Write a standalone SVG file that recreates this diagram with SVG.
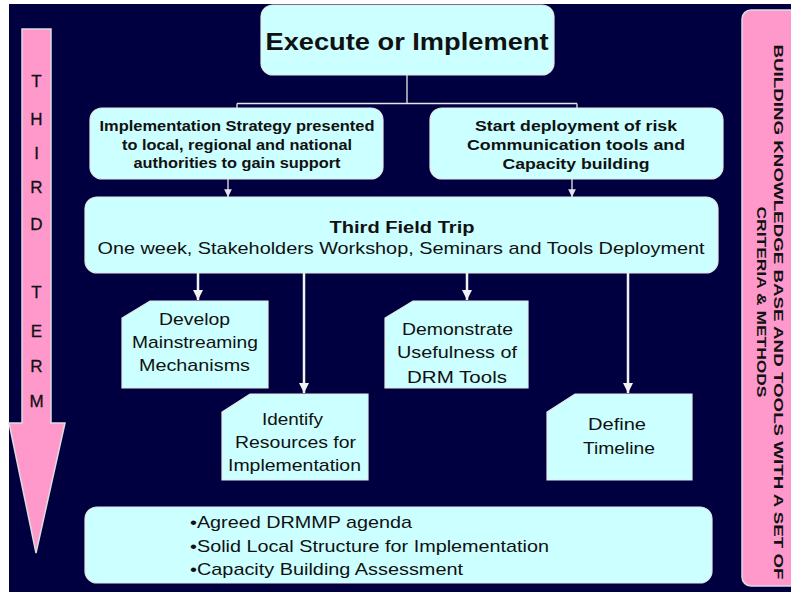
<svg xmlns="http://www.w3.org/2000/svg" width="791" height="592" viewBox="0 0 791 592">
<defs>
<style>
.t{font-family:"Liberation Sans",Arial,sans-serif;fill:#111;}
.b{font-weight:bold;}
.box{fill:#ccffff;stroke:#e8e8e8;stroke-width:1.2;}
.pink{fill:#ff99cc;stroke:#dddddd;stroke-width:1.5;}
.thin{stroke:#e6e6e6;stroke-width:1.3;fill:none;}
.thick{stroke:#f2f2f2;stroke-width:2.5;fill:none;}
.lt{font-family:"Liberation Sans",Arial,sans-serif;font-size:17px;fill:#111;text-anchor:middle;stroke:#111;stroke-width:0.3;}
</style>
<marker id="ah" viewBox="0 0 10 10" refX="10" refY="5" markerWidth="4" markerHeight="4" orient="auto" markerUnits="strokeWidth">
<path d="M0,0 L10,5 L0,10 z" fill="#f2f2f2"/>
</marker>
<marker id="ahs" viewBox="0 0 10 10" refX="10" refY="5" markerWidth="6" markerHeight="6" orient="auto" markerUnits="strokeWidth">
<path d="M0,0 L10,5 L0,10 z" fill="#e6e6e6"/>
</marker>
</defs>
<rect x="0" y="0" width="791" height="592" fill="#ffffff"/>
<rect x="9" y="4" width="782" height="588" fill="#000040"/>

<g id="third-term">
<path class="pink" d="M22,29 H51 V423 H65 L36,553 L9,423 H22 Z"/>
<text class="lt" x="36.5" y="87">T</text>
<text class="lt" x="36.5" y="125">H</text>
<text class="lt" x="36.5" y="159">I</text>
<text class="lt" x="36.5" y="193">R</text>
<text class="lt" x="36.5" y="230">D</text>
<text class="lt" x="36.5" y="298">T</text>
<text class="lt" x="36.5" y="337">E</text>
<text class="lt" x="36.5" y="372">R</text>
<text class="lt" x="36.5" y="407">M</text>
</g>

<g id="building-knowledge">
<rect class="pink" x="742" y="10" width="60" height="576" rx="9"/>
<text class="t b" font-size="13" text-anchor="middle" transform="translate(774,312) rotate(90)" textLength="535" lengthAdjust="spacingAndGlyphs">BUILDING KNOWLEDGE BASE AND TOOLS WITH A SET OF</text>
<text class="t b" font-size="13" text-anchor="middle" transform="translate(757,302) rotate(90)" textLength="191" lengthAdjust="spacingAndGlyphs">CRITERIA &amp; METHODS</text>
</g>

<g id="connectors">
<path class="thin" d="M407,75 V103.5 M237,103.5 H577 M237,103.5 V108 M577,103.5 V108"/>
<line class="thin" x1="228" y1="179" x2="228" y2="197" marker-end="url(#ahs)"/>
<line class="thin" x1="572" y1="179" x2="572" y2="197" marker-end="url(#ahs)"/>
<line class="thick" x1="198" y1="273" x2="198" y2="300" marker-end="url(#ah)"/>
<line class="thick" x1="304" y1="273" x2="304" y2="393" marker-end="url(#ah)"/>
<line class="thick" x1="467" y1="273" x2="467" y2="300" marker-end="url(#ah)"/>
<line class="thick" x1="628" y1="273" x2="628" y2="393" marker-end="url(#ah)"/>
</g>

<g id="execute">
<rect class="box" x="261" y="5" width="293" height="70" rx="12"/>
<text class="t b" font-size="23" x="407" y="50" text-anchor="middle" textLength="283" lengthAdjust="spacingAndGlyphs">Execute or Implement</text>
</g>

<g id="strategy">
<rect class="box" x="90" y="108" width="293" height="71" rx="12"/>
<text class="t b" font-size="15" x="237" y="131" text-anchor="middle" textLength="275" lengthAdjust="spacingAndGlyphs">Implementation Strategy presented</text>
<text class="t b" font-size="15" x="237" y="150" text-anchor="middle" textLength="230" lengthAdjust="spacingAndGlyphs">to local, regional and national</text>
<text class="t b" font-size="15" x="237" y="168" text-anchor="middle" textLength="207" lengthAdjust="spacingAndGlyphs">authorities to gain support</text>
</g>

<g id="deployment">
<rect class="box" x="430" y="108" width="293" height="71" rx="12"/>
<text class="t b" font-size="15" x="576" y="131" text-anchor="middle" textLength="202" lengthAdjust="spacingAndGlyphs">Start deployment of risk</text>
<text class="t b" font-size="15" x="576" y="150" text-anchor="middle" textLength="218" lengthAdjust="spacingAndGlyphs">Communication tools and</text>
<text class="t b" font-size="15" x="576" y="169" text-anchor="middle" textLength="147" lengthAdjust="spacingAndGlyphs">Capacity building</text>
</g>

<g id="field-trip">
<rect class="box" x="85" y="197" width="633" height="76" rx="12"/>
<text class="t b" font-size="16" x="402" y="233" text-anchor="middle" textLength="145" lengthAdjust="spacingAndGlyphs">Third Field Trip</text>
<text class="t" font-size="17" x="401" y="254" text-anchor="middle" textLength="607" lengthAdjust="spacingAndGlyphs">One week, Stakeholders Workshop, Seminars and Tools Deployment</text>
</g>

<g id="develop">
<path class="box" d="M150,301 H268 V388 H122 V318 Z"/>
<text class="t" font-size="17" x="194.5" y="325" text-anchor="middle" textLength="71" lengthAdjust="spacingAndGlyphs">Develop</text>
<text class="t" font-size="17" x="195" y="348" text-anchor="middle" textLength="126" lengthAdjust="spacingAndGlyphs">Mainstreaming</text>
<text class="t" font-size="17" x="194.5" y="371" text-anchor="middle" textLength="111" lengthAdjust="spacingAndGlyphs">Mechanisms</text>
</g>

<g id="identify">
<path class="box" d="M250,394 H368 V480 H222 V412 Z"/>
<text class="t" font-size="17" x="292.5" y="425" text-anchor="middle" textLength="61" lengthAdjust="spacingAndGlyphs">Identify</text>
<text class="t" font-size="17" x="295.5" y="448" text-anchor="middle" textLength="121" lengthAdjust="spacingAndGlyphs">Resources for</text>
<text class="t" font-size="17" x="294.5" y="471" text-anchor="middle" textLength="133" lengthAdjust="spacingAndGlyphs">Implementation</text>
</g>

<g id="demonstrate">
<path class="box" d="M413,301 H528 V388 H385 V318 Z"/>
<text class="t" font-size="17" x="457.5" y="335" text-anchor="middle" textLength="111" lengthAdjust="spacingAndGlyphs">Demonstrate</text>
<text class="t" font-size="17" x="457" y="358" text-anchor="middle" textLength="120" lengthAdjust="spacingAndGlyphs">Usefulness of</text>
<text class="t" font-size="17" x="457" y="383" text-anchor="middle" textLength="100" lengthAdjust="spacingAndGlyphs">DRM Tools</text>
</g>

<g id="timeline">
<path class="box" d="M575,394 H692 V480 H547 V412 Z"/>
<text class="t" font-size="17" x="617" y="430" text-anchor="middle" textLength="58" lengthAdjust="spacingAndGlyphs">Define</text>
<text class="t" font-size="17" x="619" y="454" text-anchor="middle" textLength="72" lengthAdjust="spacingAndGlyphs">Timeline</text>
</g>

<g id="outcomes">
<rect class="box" x="85" y="507" width="627" height="76" rx="12"/>
<text class="t" font-size="17" x="190" y="528" textLength="222" lengthAdjust="spacingAndGlyphs">•Agreed DRMMP agenda</text>
<text class="t" font-size="17" x="190" y="552" textLength="359" lengthAdjust="spacingAndGlyphs">•Solid Local Structure for Implementation</text>
<text class="t" font-size="17" x="190" y="575" textLength="273" lengthAdjust="spacingAndGlyphs">•Capacity Building Assessment</text>
</g>
</svg>
